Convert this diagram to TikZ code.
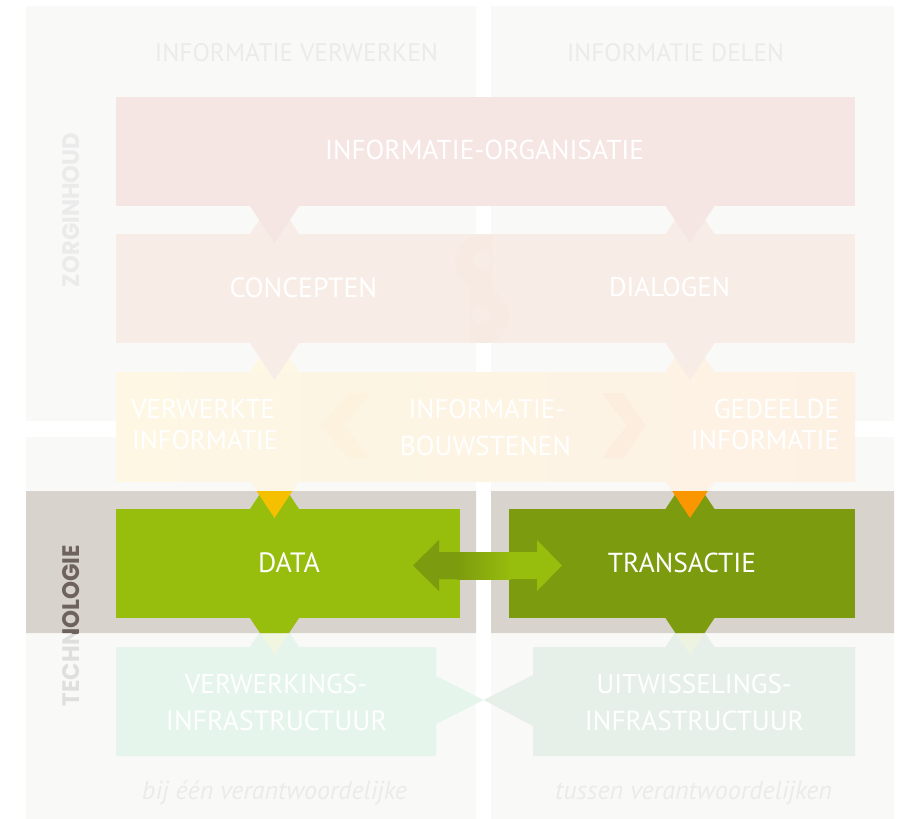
\documentclass[tikz,border=0pt]{standalone}
\usepackage{fontspec}
\setmainfont{PT Sans}
\newfontfamily\lblfont{Poppins}
\usepackage{graphicx}
\definecolor{panel}{HTML}{F9F9F8}
\definecolor{band}{HTML}{D8D3CD}
\definecolor{boxA}{HTML}{F5E6E4}
\definecolor{boxB}{HTML}{F8EDE6}
\definecolor{boxBd}{HTML}{F6EAE3}
\definecolor{boxCl}{HTML}{FDF7E4}
\definecolor{boxCr}{HTML}{FDF1E4}
\definecolor{chevL}{HTML}{FCF2DE}
\definecolor{chevR}{HTML}{FCEDDE}
\definecolor{dataG}{HTML}{97BD0D}
\definecolor{transG}{HTML}{7C9B0E}
\definecolor{yel}{HTML}{F5C000}
\definecolor{ora}{HTML}{FA9600}
\definecolor{mintL}{HTML}{E5F5EB}
\definecolor{mintR}{HTML}{E6F0E8}
\definecolor{fadeDG}{HTML}{F1F6E0}
\definecolor{fadeTG}{HTML}{EEF2E0}
\definecolor{hdr}{HTML}{EBEBEB}
\definecolor{techdark}{HTML}{6D625C}
\newcommand\fw[2]{\resizebox{#1pt}{!}{#2}}
\newcommand\pdown[4]{\fill[#4] (#1-24.5,#2) -- (#1+24.5,#2) -- (#1,#2+37) -- cycle;}
\newcommand\pup[4]{\fill[#4] (#1-24.5,#2) -- (#1+24.5,#2) -- (#1,#2-37) -- cycle;}
\tikzset{
  boxtext/.style={text=white, inner sep=0pt, outer sep=0pt},
  hdrtext/.style={text=hdr, inner sep=0pt, outer sep=0pt},
  sidelabel/.style={inner sep=0pt, outer sep=0pt, rotate=90},
}
\begin{document}
\begin{tikzpicture}[x=1pt, y=-1pt]
\useasboundingbox (0,0) rectangle (900,819);
\fill[white] (0,0) rectangle (900,819);
% panels
\fill[panel] (26,6) rectangle (476,421);
\fill[panel] (491,6) rectangle (894,421);
\fill[panel] (26,437) rectangle (476,819);
\fill[panel] (491,437) rectangle (894,819);

% ---- bottom row (infrastructure)
\pup{274.5}{647}{}{mintL}
\pup{690}{647}{}{mintR}
\fill[mintL] (116,647) -- (436,647) -- (436,676) -- (483.6,700) -- (436,724) -- (436,756) -- (116,756) -- cycle;
\fill[mintR] (533,647) -- (855,647) -- (855,756) -- (533,756) -- (533,726) -- (483.6,700) -- (533,675) -- cycle;

% ---- technology row (faded parts)
\pup{274.5}{509}{}{fadeDG}
\pup{690}{509}{}{fadeTG}
\pdown{274.5}{618}{}{fadeDG}
\pdown{690}{618}{}{fadeTG}

% ---- row 3
\pup{274.5}{372}{}{boxCl}
\pup{690}{372}{}{boxCl!22!boxCr}
\shade[left color=boxCl, right color=boxCr] (116,372) rectangle (855,481);
\fill[chevL] (370,393) -- (348,393) -- (321,425.5) -- (348,458) -- (370,458) -- (344,425.5) -- cycle;
\fill[chevR] (602,393) -- (623,393) -- (646,425.5) -- (623,458) -- (602,458) -- (627,425.5) -- cycle;
\pdown{274.5}{481}{}{boxCl!75!boxCr}
\pdown{690}{481}{}{boxCl!22!boxCr}

% ---- row 2
\pup{274.5}{234}{}{boxB}
\pup{690}{234}{}{boxB}
\fill[boxB] (116,234) rectangle (855,343);
\begin{scope}
  \clip (455,234) rectangle (492,290);
  \fill[boxBd] (482,262) circle[radius=27];
\end{scope}
\begin{scope}
  \clip (470,288) rectangle (510,343);
  \fill[boxBd] (482,316) circle[radius=27];
\end{scope}
\fill[boxBd] (470,286) rectangle (494,292);
\fill[boxB] (482,260) circle[radius=9];
\fill[boxB] (481,315) circle[radius=9];
\pdown{274.5}{343}{}{boxB}
\pdown{690}{343}{}{boxB}

% ---- row 1
\fill[boxA] (116,97) rectangle (855,206);
\pdown{274.5}{206}{}{boxA}
\pdown{690}{206}{}{boxA}

% ---- side labels (light)
\node[sidelabel, text=hdr] (zorg) at (71,210) {\resizebox{154pt}{17pt}{\lblfont\bfseries ZORGINHOUD}};
\node[sidelabel, text=hdr!95!black] (techl) at (71,625.5) {\resizebox{161pt}{17pt}{\lblfont\bfseries TECHNOLOGIE}};

% ---- technology band in full colour
\begin{scope}
  \clip (26,491) rectangle (476,633) (491,491) rectangle (894,633);
  \fill[band] (0,480) rectangle (900,640);
  \pup{274.5}{509}{}{dataG}
  \pup{690}{509}{}{transG}
  \pdown{274.5}{618}{}{dataG}
  \pdown{690}{618}{}{transG}
  \fill[dataG] (116,509) rectangle (460,618);
  \fill[transG] (509,509) rectangle (855,618);
  \pdown{274.5}{481}{}{yel}
  \pdown{690}{481}{}{ora}
  \node[sidelabel, text=techdark] (techd) at (71,625.5) {\resizebox{161pt}{17pt}{\lblfont\bfseries TECHNOLOGIE}};
\end{scope}

% ---- double arrow between DATA and TRANSACTIE
\fill[transG] (413,565.5) -- (439,540) -- (439,552) -- (537,552) -- (537,540) -- (562,565.5) -- (537,591) -- (537,579) -- (439,579) -- (439,591) -- cycle;
\fill[dataG] (510,552) -- (537,552) -- (537,540) -- (562,565.5) -- (537,591) -- (537,579) -- (510,579) -- cycle;
\shade[left color=transG, right color=dataG] (457,552) rectangle (510.5,579);

% ---- texts
\node[hdrtext] (h1) at (296.5,52.5) {\fw{283}{INFORMATIE VERWERKEN}};
\node[hdrtext] (h2) at (675.6,52.5) {\fw{217}{INFORMATIE DELEN}};
\node[boxtext] (org) at (484.6,150) {\fw{319}{INFORMATIE-ORGANISATIE}};
\node[boxtext] (conc) at (303.3,287.3) {\fw{147.5}{CONCEPTEN}};
\node[boxtext] (dial) at (669.5,287.3) {\fw{121}{DIALOGEN}};
\node[boxtext, anchor=west] (vi1) at (131,409) {\fw{144}{VERWERKTE}};
\node[boxtext, anchor=west] (vi2) at (132,440) {\fw{146}{INFORMATIE}};
\node[boxtext] (ib1) at (486.8,409) {\fw{156.5}{INFORMATIE-}};
\node[boxtext] (ib2) at (485.5,446) {\fw{171}{BOUWSTENEN}};
\node[boxtext, anchor=east] (gi1) at (839,409) {\fw{125}{GEDEELDE}};
\node[boxtext, anchor=east] (gi2) at (839,440) {\fw{148}{INFORMATIE}};
\node[boxtext] (data) at (289,562.5) {\fw{62}{DATA}};
\node[boxtext] (trans) at (682,562.5) {\fw{148}{TRANSACTIE}};
\node[boxtext] (vk1) at (276,684) {\fw{182}{VERWERKINGS-}};
\node[boxtext] (vk2) at (276.5,720.5) {\fw{221}{INFRASTRUCTUUR}};
\node[boxtext] (uw1) at (694.2,684) {\fw{195}{UITWISSELINGS-}};
\node[boxtext] (uw2) at (694.5,720.5) {\fw{219}{INFRASTRUCTUUR}};
\node[hdrtext] (bij) at (274.5,792.5) {\fw{265}{\itshape bij één verantwoordelijke}};
\node[hdrtext] (tus) at (693.6,792.5) {\fw{277}{\itshape tussen verantwoordelijken}};
\end{tikzpicture}
\end{document}
